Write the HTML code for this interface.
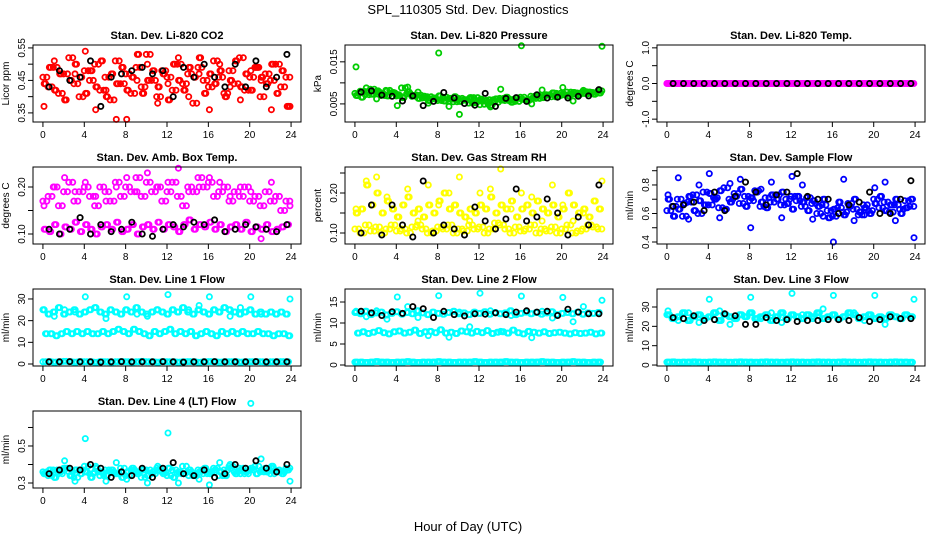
<!DOCTYPE html>
<html><head><meta charset="utf-8"><title>SPL_110305 Std. Dev. Diagnostics</title>
<style>
html,body{margin:0;padding:0;background:#fff;}
svg{display:block;font-family:"Liberation Sans",Arial,sans-serif;}
</style></head>
<body>
<svg id="chart" width="936" height="540" viewBox="0 0 936 540" xmlns="http://www.w3.org/2000/svg">
<rect width="936" height="540" fill="#fff"/>
<text x="468" y="14" text-anchor="middle" font-size="13">SPL_110305  Std. Dev. Diagnostics</text>
<text x="468" y="531" text-anchor="middle" font-size="13">Hour of Day (UTC)</text>
</svg>
<script>
const hoursA=[0,0.5,1,1.5,2,2.5,3,3.5,4,4.5,5,5.5,6,6.5,7,7.5,8,8.5,9,9.5,10,10.5,11,11.5,12,12.5,13,13.5,14,14.5,15,15.5,16,16.5,17,17.5,18,18.5,19,19.5,20,20.5,21,21.5,22,22.5,23,23.5];
const hoursB=[0.25,0.75,1.25,1.75,2.25,2.75,3.25,3.75,4.25,4.75,5.25,5.75,6.25,6.75,7.25,7.75,8.25,8.75,9.25,9.75,10.25,10.75,11.25,11.75,12.25,12.75,13.25,13.75,14.25,14.75,15.25,15.75,16.25,16.75,17.25,17.75,18.25,18.75,19.25,19.75,20.25,20.75,21.25,21.75,22.25,22.75,23.25,23.75];
const hoursD=[0.125,0.625,1.125,1.625,2.125,2.625,3.125,3.625,4.125,4.625,5.125,5.625,6.125,6.625,7.125,7.625,8.125,8.625,9.125,9.625,10.125,10.625,11.125,11.625,12.125,12.625,13.125,13.625,14.125,14.625,15.125,15.625,16.125,16.625,17.125,17.625,18.125,18.625,19.125,19.625,20.125,20.625,21.125,21.625,22.125,22.625,23.125,23.625];
const hoursE=[0.375,0.875,1.375,1.875,2.375,2.875,3.375,3.875,4.375,4.875,5.375,5.875,6.375,6.875,7.375,7.875,8.375,8.875,9.375,9.875,10.375,10.875,11.375,11.875,12.375,12.875,13.375,13.875,14.375,14.875,15.375,15.875,16.375,16.875,17.375,17.875,18.375,18.875,19.375,19.875,20.375,20.875,21.375,21.875,22.375,22.875,23.375,23.875];
const hoursC=[0.1,1.1,2.1,3.1,4.1,5.1,6.1,7.1,8.1,9.1,10.1,11.1,12.1,13.1,14.1,15.1,16.1,17.1,18.1,19.1,20.1,21.1,22.1,23.9];
const hoursK=[0.6,1.6,2.6,3.6,4.6,5.6,6.6,7.6,8.6,9.6,10.6,11.6,12.6,13.6,14.6,15.6,16.6,17.6,18.6,19.6,20.6,21.6,22.6,23.6];
const xTicks=[0,4,8,12,16,20,24];

const co2A=[0.46,0.43,0.49,0.41,0.47,0.52,0.44,0.40,0.48,0.45,0.50,0.42,0.46,0.39,0.51,0.44,0.47,0.41,0.49,0.43,0.53,0.45,0.40,0.48,0.46,0.42,0.50,0.44,0.47,0.38,0.49,0.45,0.43,0.51,0.46,0.41,0.48,0.44,0.52,0.42,0.46,0.49,0.40,0.47,0.45,0.50,0.43,0.46];
const co2B=[0.44,0.49,0.42,0.47,0.39,0.45,0.50,0.46,0.41,0.48,0.43,0.51,0.40,0.47,0.44,0.49,0.42,0.46,0.53,0.41,0.45,0.48,0.43,0.47,0.39,0.50,0.45,0.42,0.49,0.46,0.52,0.41,0.47,0.44,0.48,0.40,0.45,0.51,0.43,0.47,0.42,0.49,0.46,0.44,0.50,0.41,0.48,0.37];
const co2C=[0.37,0.51,0.39,0.47,0.54,0.36,0.42,0.33,0.33,0.45,0.50,0.38,0.44,0.52,0.40,0.47,0.36,0.50,0.43,0.39,0.48,0.45,0.36,0.37];
const co2K=[0.43,0.48,0.45,0.46,0.51,0.37,0.46,0.47,0.48,0.49,0.47,0.48,0.40,0.49,0.46,0.50,0.46,0.43,0.50,0.43,0.51,0.43,0.46,0.53];

const prsA=[0.0075,0.008,0.0072,0.0085,0.0078,0.007,0.0082,0.0076,0.0069,0.0088,0.0074,0.0068,0.0071,0.0064,0.0067,0.0062,0.0058,0.0066,0.0061,0.0055,0.0063,0.0059,0.0052,0.0065,0.0057,0.0049,0.006,0.0054,0.0063,0.0058,0.0061,0.0056,0.0066,0.0059,0.0068,0.0063,0.007,0.0072,0.0067,0.0075,0.0071,0.0078,0.0073,0.0076,0.0079,0.0074,0.0077,0.0081];
const prsB=[0.007,0.0066,0.0079,0.0073,0.0081,0.0074,0.0069,0.0077,0.0072,0.0065,0.0078,0.007,0.0063,0.0068,0.0058,0.0064,0.0069,0.0057,0.0063,0.0067,0.0056,0.006,0.0065,0.0053,0.0061,0.0058,0.0047,0.0062,0.0059,0.0066,0.0054,0.0064,0.0061,0.0057,0.0063,0.0069,0.0065,0.0071,0.0076,0.0068,0.0073,0.0069,0.0077,0.0072,0.0075,0.0078,0.0073,0.0076];
const prsC=[0.0138,0.0088,0.0062,0.0081,0.0046,0.009,0.0078,0.0052,0.0171,0.0044,0.0025,0.0061,0.0048,0.0043,0.0085,0.0059,0.0188,0.005,0.0083,0.0076,0.0089,0.0057,0.0082,0.0187];
const prsK=[0.0078,0.0081,0.0071,0.0068,0.0057,0.0069,0.0046,0.0056,0.0077,0.0064,0.0051,0.0047,0.0075,0.0044,0.0063,0.0065,0.0056,0.0072,0.0064,0.0066,0.0064,0.0068,0.0069,0.0084];

const tmpA=[0,0,0,0,0,0,0,0,0,0,0,0,0,0,0,0,0,0,0,0,0,0,0,0,0,0,0,0,0,0,0,0,0,0,0,0,0,0,0,0,0,0,0,0,0,0,0,0];
const tmpB=[0,0,0,0,0,0,0,0,0,0,0,0,0,0,0,0,0,0,0,0,0,0,0,0,0,0,0,0,0,0,0,0,0,0,0,0,0,0,0,0,0,0,0,0,0,0,0,0];
const tmpK=[0,0,0,0,0,0,0,0,0,0,0,0,0,0,0,0,0,0,0,0,0,0,0,0];

const ambA=[0.17,0.18,0.2,0.16,0.19,0.21,0.17,0.19,0.2,0.18,0.16,0.2,0.19,0.17,0.21,0.18,0.2,0.19,0.22,0.18,0.21,0.19,0.2,0.17,0.19,0.21,0.18,0.16,0.2,0.19,0.22,0.2,0.21,0.18,0.19,0.2,0.17,0.19,0.18,0.2,0.17,0.18,0.16,0.19,0.17,0.18,0.15,0.17];
const ambB=[0.11,0.105,0.12,0.1,0.115,0.11,0.125,0.105,0.12,0.11,0.1,0.115,0.12,0.11,0.125,0.105,0.11,0.12,0.1,0.115,0.12,0.11,0.125,0.11,0.12,0.115,0.105,0.12,0.13,0.11,0.12,0.115,0.125,0.11,0.12,0.105,0.115,0.12,0.11,0.125,0.105,0.115,0.11,0.12,0.105,0.11,0.115,0.12];
const ambC=[0.16,0.2,0.22,0.19,0.21,0.18,0.17,0.2,0.22,0.19,0.23,0.2,0.21,0.24,0.19,0.2,0.22,0.21,0.18,0.2,0.19,0.09,0.21,0.16];
const ambK=[0.11,0.1,0.11,0.135,0.1,0.12,0.105,0.11,0.125,0.1,0.095,0.11,0.12,0.115,0.125,0.12,0.13,0.105,0.11,0.12,0.115,0.11,0.105,0.12];

const rhA=[0.11,0.1,0.12,0.105,0.115,0.1,0.11,0.12,0.105,0.11,0.1,0.115,0.12,0.11,0.1,0.105,0.115,0.11,0.12,0.1,0.11,0.105,0.12,0.11,0.115,0.1,0.11,0.125,0.12,0.11,0.1,0.115,0.105,0.11,0.12,0.1,0.11,0.105,0.115,0.1,0.11,0.12,0.1,0.105,0.11,0.12,0.115,0.11];
const rhB=[0.15,0.16,0.22,0.17,0.2,0.15,0.18,0.16,0.14,0.17,0.19,0.15,0.16,0.14,0.17,0.15,0.18,0.2,0.16,0.17,0.15,0.14,0.16,0.15,0.17,0.16,0.19,0.15,0.17,0.16,0.18,0.14,0.16,0.17,0.15,0.18,0.16,0.15,0.17,0.14,0.16,0.2,0.17,0.15,0.16,0.14,0.18,0.16];
const rhC=[0.16,0.23,0.24,0.19,0.14,0.21,0.13,0.22,0.17,0.2,0.24,0.13,0.2,0.21,0.26,0.16,0.2,0.19,0.13,0.22,0.17,0.13,0.15,0.23];
const rhK=[0.1,0.17,0.095,0.17,0.12,0.09,0.23,0.1,0.12,0.11,0.095,0.165,0.13,0.11,0.135,0.21,0.13,0.14,0.185,0.15,0.095,0.14,0.12,0.22];

const flwA=[0.62,0.65,0.7,0.58,0.68,0.73,0.6,0.75,0.66,0.71,0.64,0.78,0.7,0.74,0.67,0.72,0.69,0.76,0.65,0.71,0.68,0.73,0.66,0.7,0.72,0.69,0.65,0.71,0.67,0.6,0.66,0.62,0.58,0.64,0.61,0.67,0.63,0.59,0.66,0.62,0.7,0.64,0.68,0.61,0.66,0.63,0.69,0.65];
const flwB=[0.7,0.58,0.63,0.67,0.72,0.62,0.69,0.66,0.74,0.7,0.76,0.63,0.68,0.72,0.77,0.65,0.71,0.75,0.68,0.64,0.73,0.7,0.75,0.67,0.63,0.72,0.68,0.62,0.69,0.65,0.7,0.57,0.63,0.68,0.59,0.65,0.7,0.61,0.64,0.6,0.67,0.72,0.62,0.66,0.7,0.6,0.64,0.7];
const flwC=[0.73,0.85,0.56,0.8,0.88,0.57,0.81,0.84,0.5,0.77,0.82,0.57,0.86,0.8,0.56,0.58,0.4,0.84,0.55,0.59,0.78,0.82,0.55,0.43];
const flwK=[0.65,0.66,0.68,0.62,0.75,0.62,0.72,0.82,0.75,0.66,0.73,0.75,0.88,0.72,0.7,0.7,0.6,0.66,0.68,0.75,0.6,0.6,0.7,0.83];

const l1A=[25,23,24,26,23,24,25,23,24,25,26,24,23,25,24,23,25,24,26,24,23,24,25,24,23,25,24,26,24,23,25,24,23,25,24,26,25,24,23,24,25,23,24,23,24,23,24,23];
const l1B=[14,14,13,14,15,14,15,14,15,14,14,15,14,15,16,15,14,16,15,14,13,15,14,15,16,14,15,14,15,13,14,15,14,13,15,14,15,14,15,14,14,15,14,14,13,14,14,13];
const l1Low=[1,1.1,0.9,1,1.2,1,0.9,1.1,1,1,0.8,1.1,1,0.9,1,1.1,1,0.9,1,1.2,1,1,0.9,1.1,1,1,0.9,1,1.1,1,0.8,1,1.1,1,0.9,1,1,1.1,0.9,1,1,1.1,1,0.9,1,1,1.1,1];
const l1C=[25,22,25,24,31,26,21,24,31,23,22,25,32,24,25,27,31,24,22,26,31,23,24,30];
const l1K=[1,1,1.1,1,1,0.9,1,1.1,1,1,1,1.1,1,0.9,1,1,1.1,1,1,1,1.1,1,1,1];

const l2A=[12.5,12.2,12.8,12,12.4,12.6,11.9,12.3,12.7,12.1,12.5,12.2,12.9,12.4,12,12.6,12.3,12.1,12.5,12.8,12.2,12.4,12,12.6,12.3,12.7,12.1,12.5,12.2,12.4,12.9,12,12.3,12.6,12.2,12.5,12.1,12.4,12.7,12,12.3,12.5,12.2,12.6,12.1,12.4,12.3,12.5];
const l2B=[7.6,7.9,7.5,7.8,8.2,7.7,7.4,7.9,8.1,7.6,7.8,8.3,7.5,7.9,8,7.7,8.4,7.6,7.8,7.5,8.1,7.9,7.6,8,7.7,8.2,7.5,7.8,7.9,7.6,8.3,7.7,7.4,8,7.8,7.6,7.9,7.5,7.7,7.8,7.6,7.4,7.7,7.5,7.6,7.8,7.4,7.6];
const l2Low=[0.7,0.7,0.6,0.7,0.8,0.7,0.7,0.6,0.7,0.7,0.8,0.7,0.6,0.7,0.7,0.7,0.8,0.7,0.7,0.6,0.7,0.7,0.7,0.8,0.7,0.6,0.7,0.7,0.7,0.8,0.7,0.7,0.6,0.7,0.7,0.7,0.8,0.7,0.7,0.6,0.7,0.7,0.8,0.7,0.7,0.6,0.7,0.7];
const l2C=[12.8,11.5,12.9,10.9,16.2,13.9,11.3,7.0,16.5,6.6,12.6,9.1,17.1,12.9,8.0,11.8,16.4,6.5,12.8,11.2,16.1,10.3,13.9,15.4];
const l2K=[12.8,12.4,11.8,12.7,12.3,13.9,13.4,11.3,12.8,12.0,11.7,12.2,12.1,12.4,12.0,12.6,12.9,12.6,12.8,11.8,13.3,12.6,12.2,12.2];

const l3A=[26,24,25,27,23,25,26,24,25,27,23,26,25,24,26,25,27,24,25,26,23,25,27,24,26,25,24,26,25,27,24,25,26,24,25,27,26,24,25,26,24,25,24,26,25,24,26,25];
const l3Low=[1.5,1.6,1.4,1.5,1.5,1.6,1.5,1.4,1.5,1.6,1.5,1.5,1.4,1.5,1.6,1.5,1.5,1.4,1.5,1.6,1.5,1.5,1.4,1.5,1.6,1.5,1.5,1.4,1.5,1.6,1.5,1.5,1.4,1.5,1.6,1.5,1.5,1.4,1.5,1.6,1.5,1.5,1.4,1.5,1.6,1.5,1.5,1.4];
const l3C=[28,23,27,22,34,28,21,26,35,24,27,22,37,26,24,29,36,25,27,23,36,21,25,34];
const l3K=[24.5,24,25.5,23,23.5,26.5,25.5,21,21,24.5,23,23.5,22.5,23,23,23.5,23.5,23,24.5,22.5,23.5,25,24,24];

const l4A=[0.36,0.34,0.37,0.35,0.38,0.36,0.33,0.37,0.39,0.35,0.36,0.34,0.37,0.36,0.35,0.38,0.34,0.37,0.36,0.33,0.37,0.35,0.38,0.36,0.34,0.37,0.35,0.39,0.36,0.34,0.37,0.35,0.36,0.38,0.34,0.37,0.39,0.36,0.38,0.35,0.37,0.39,0.36,0.38,0.35,0.37,0.36,0.38];
const l4B=[0.35,0.37,0.33,0.36,0.38,0.34,0.37,0.35,0.36,0.33,0.38,0.36,0.34,0.37,0.35,0.33,0.36,0.38,0.35,0.37,0.34,0.36,0.37,0.35,0.38,0.33,0.36,0.35,0.37,0.34,0.36,0.38,0.35,0.37,0.36,0.34,0.38,0.35,0.37,0.36,0.38,0.35,0.37,0.36,0.39,0.36,0.35,0.37];
const l4C=[0.35,0.33,0.42,0.31,0.54,0.39,0.31,0.41,0.32,0.36,0.3,0.39,0.57,0.3,0.34,0.32,0.29,0.41,0.4,0.35,0.73,0.43,0.38,0.31];
const l4K=[0.35,0.37,0.38,0.37,0.40,0.38,0.33,0.36,0.34,0.38,0.33,0.38,0.41,0.35,0.34,0.37,0.33,0.35,0.40,0.38,0.42,0.38,0.36,0.40];

const colLeft=[33,345,657], rowTop=[45,167,289,411], boxW=268, boxH=77;
const panels=[
 {name:'co2',title:'Stan. Dev. Li-820 CO2',ylab:'Licor ppm',col:0,row:0,ylim:[0.322,0.559],ticks:[0.35,0.40,0.45,0.50,0.55],labels:['0.35','','0.45','','0.55'],c:'#ff0000',series:[[hoursA,co2A],[hoursB,co2B],[hoursD,co2B],[hoursE,co2A],[hoursC,co2C]],black:co2K},
 {name:'pressure',title:'Stan. Dev. Li-820 Pressure',ylab:'kPa',col:1,row:0,ylim:[0.0007,0.019],ticks:[0.005,0.010,0.015],labels:['0.005','','0.015'],c:'#00cd00',series:[[hoursA,prsA],[hoursB,prsB],[hoursD,prsB],[hoursE,prsA],[hoursC,prsC]],black:prsK},
 {name:'temp',title:'Stan. Dev. Li-820 Temp.',ylab:'degrees C',col:2,row:0,ylim:[-1.08,1.08],ticks:[-1,-0.5,0,0.5,1],labels:['-1.0','','0.0','','1.0'],c:'#ff00ff',series:[[hoursA,tmpA],[hoursB,tmpB],[hoursD,tmpA],[hoursE,tmpB]],black:tmpK},
 {name:'amb-box',title:'Stan. Dev. Amb. Box Temp.',ylab:'degrees C',col:0,row:1,ylim:[0.0787,0.2426],ticks:[0.10,0.15,0.20],labels:['0.10','','0.20'],c:'#ff00ff',series:[[hoursA,ambA],[hoursB,ambB],[hoursD,ambB],[hoursE,ambA],[hoursC,ambC]],black:ambK},
 {name:'gas-rh',title:'Stan. Dev. Gas Stream RH',ylab:'percent',col:1,row:1,ylim:[0.0725,0.265],ticks:[0.10,0.15,0.20,0.25],labels:['0.10','','0.20',''],c:'#ffff00',series:[[hoursA,rhA],[hoursB,rhB],[hoursD,rhB],[hoursE,rhA],[hoursC,rhC]],black:rhK},
 {name:'sample-flow',title:'Stan. Dev. Sample Flow',ylab:'ml/min',col:2,row:1,ylim:[0.386,0.926],ticks:[0.4,0.5,0.6,0.7,0.8,0.9],labels:['0.4','','0.6','','0.8',''],c:'#0000ff',series:[[hoursA,flwA],[hoursB,flwB],[hoursD,flwB],[hoursE,flwA],[hoursC,flwC]],black:flwK},
 {name:'line1',title:'Stan. Dev. Line 1 Flow',ylab:'ml/min',col:0,row:2,ylim:[-0.92,34.6],ticks:[0,10,20,30],labels:['0','10','20','30'],c:'#00ffff',series:[[hoursA,l1A],[hoursB,l1B],[hoursD,l1A],[hoursE,l1B],[hoursA,l1Low],[hoursB,l1Low],[hoursC,l1C]],black:l1K},
 {name:'line2',title:'Stan. Dev. Line 2 Flow',ylab:'ml/min',col:1,row:2,ylim:[-0.24,18.1],ticks:[0,5,10,15],labels:['0','5','10','15'],c:'#00ffff',series:[[hoursA,l2A],[hoursB,l2B],[hoursD,l2A],[hoursE,l2B],[hoursA,l2Low],[hoursB,l2Low],[hoursD,l2Low],[hoursC,l2C]],black:l2K},
 {name:'line3',title:'Stan. Dev. Line 3 Flow',ylab:'ml/min',col:2,row:2,ylim:[-0.5,39.3],ticks:[0,10,20,30],labels:['0','10','20','30'],c:'#00ffff',series:[[hoursA,l3A],[hoursB,l3A],[hoursD,l3A],[hoursA,l3Low],[hoursB,l3Low],[hoursD,l3Low],[hoursC,l3C]],black:l3K},
 {name:'line4',title:'Stan. Dev. Line 4 (LT) Flow',ylab:'ml/min',col:0,row:3,ylim:[0.273,0.689],ticks:[0.3,0.4,0.5,0.6],labels:['0.3','','0.5',''],c:'#00ffff',series:[[hoursA,l4A],[hoursB,l4B],[hoursD,l4B],[hoursE,l4A],[hoursC,l4C]],black:l4K}
];

const svg=document.getElementById('chart');
const NS='http://www.w3.org/2000/svg';
function mk(tag,attrs,parent){const e=document.createElementNS(NS,tag);for(const k in attrs)e.setAttribute(k,attrs[k]);parent.appendChild(e);return e;}

panels.forEach(p=>{
  const L=colLeft[p.col], T=rowTop[p.row], B=T+boxH, R=L+boxW;
  const xs=h=>L+(h+0.96)/25.92*boxW;
  const ys=v=>B-(v-p.ylim[0])/(p.ylim[1]-p.ylim[0])*boxH;
  const g=mk('g',{},svg);
  
  
  const t=mk('text',{x:(L+R)/2,y:T-6,'text-anchor':'middle','font-size':11,'font-weight':'bold'},g);
  t.textContent=p.title;
  
  
  const yl=mk('text',{x:0,y:0,'text-anchor':'middle','font-size':10,transform:`translate(${L-24},${(T+B)/2}) rotate(-90)`},g);
  yl.textContent=p.ylab;
  
  
  const pts=mk('g',{fill:'none','stroke-width':1.8},g);
  
  
  p.series.forEach(s=>{
    s[1].forEach((v,i)=>{
      const c=mk('circle',{cx:xs(s[0][i]).toFixed(1),cy:ys(v).toFixed(1),r:2.6,stroke:p.c},pts);
      
      
    });
  });
  p.black.forEach((v,i)=>{
    const c=mk('circle',{cx:xs(hoursK[i]).toFixed(1),cy:ys(v).toFixed(1),r:2.6,stroke:'#000'},pts);
    
    
  });
  const box=mk('rect',{x:L,y:T,width:boxW,height:boxH,fill:'none',stroke:'#000','stroke-width':1},g);
  
  
  const ax=mk('g',{stroke:'#000','stroke-width':1},g);
  
  
  xTicks.forEach(h=>{
    mk('line',{x1:xs(h),x2:xs(h),y1:B,y2:B+5},ax);
    const tl=mk('text',{x:xs(h),y:B+16,'text-anchor':'middle','font-size':10,stroke:'none',fill:'#000'},ax);
    tl.textContent=h;
    
    
  });
  const ay=mk('g',{stroke:'#000','stroke-width':1},g);
  
  
  p.ticks.forEach((v,i)=>{
    const y=ys(v);
    mk('line',{x1:L-5,x2:L,y1:y,y2:y},ay);
    if(p.labels[i]){
      const tl=mk('text',{x:0,y:0,'text-anchor':'middle','font-size':10,stroke:'none',fill:'#000',transform:`translate(${L-8},${y}) rotate(-90)`},ay);
      tl.textContent=p.labels[i];
      
      
    }
  });
});
</script>
</body></html>
